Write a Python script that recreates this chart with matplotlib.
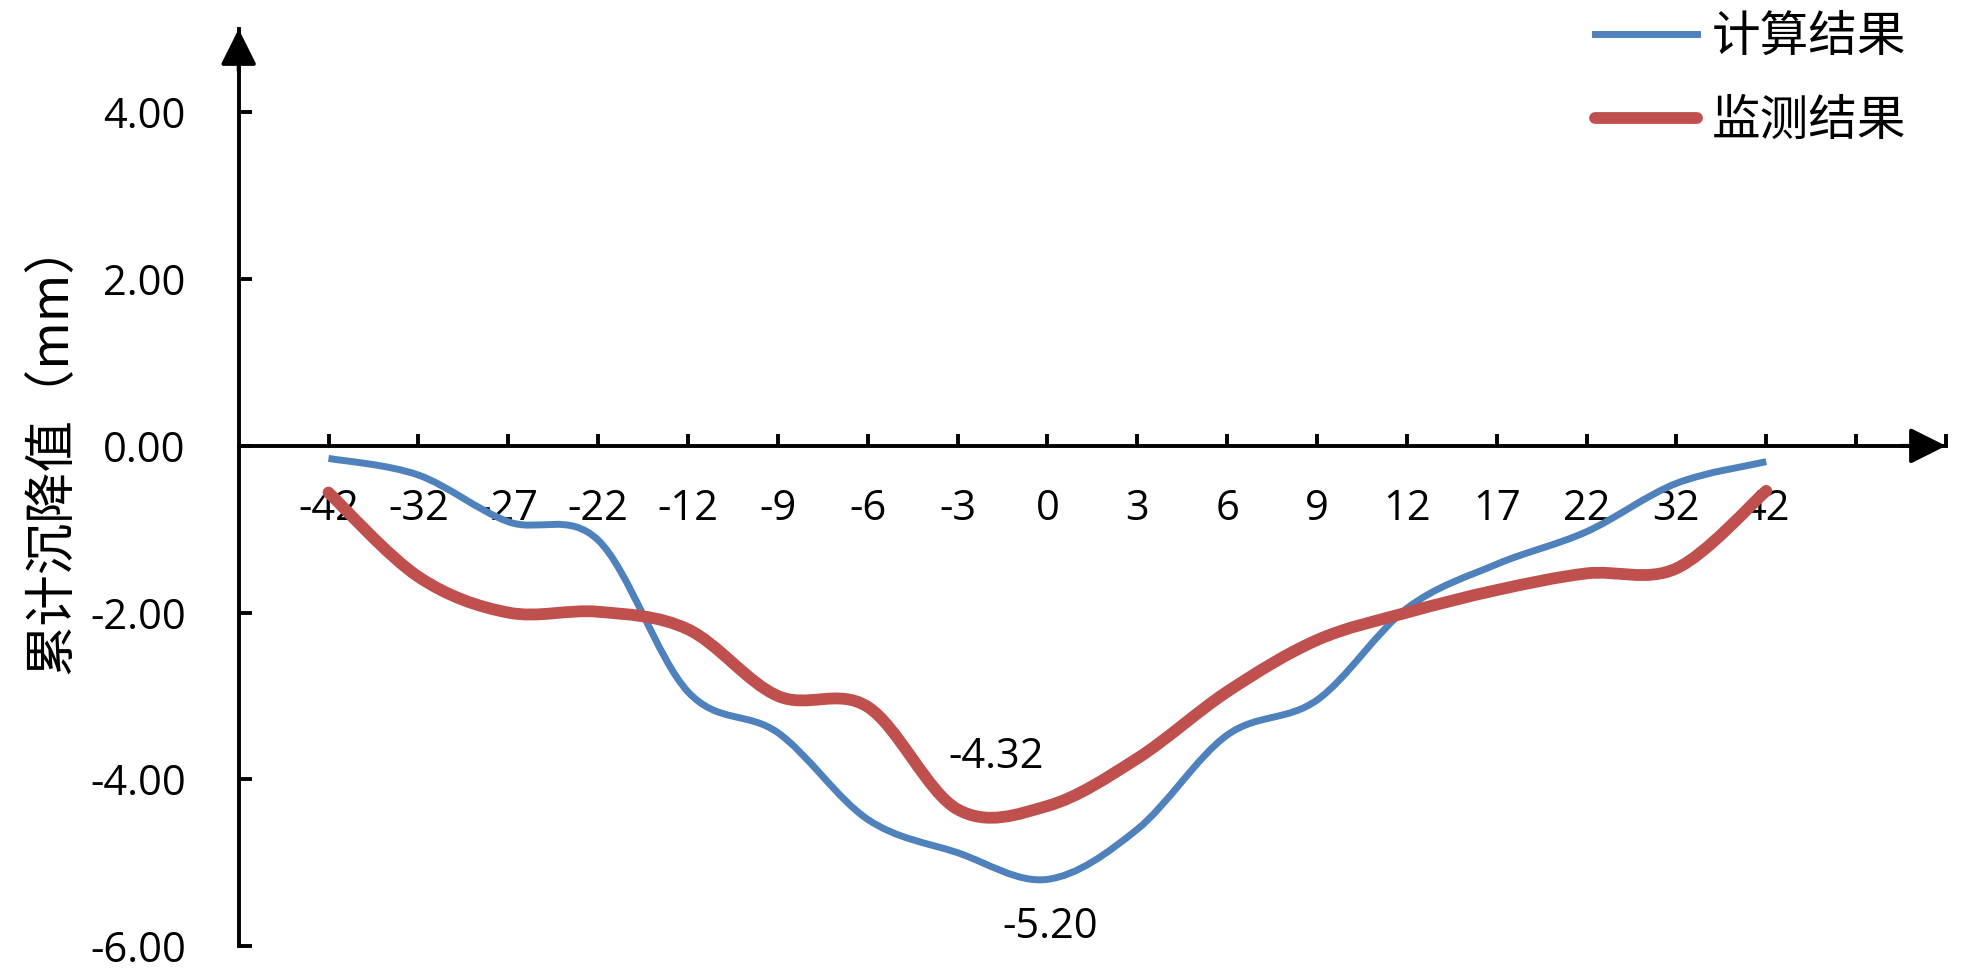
import numpy as np
import matplotlib
matplotlib.use("Agg")
import matplotlib.pyplot as plt
from matplotlib.path import Path
from matplotlib.patches import PathPatch
from matplotlib.lines import Line2D

plt.rcParams['font.family'] = ['Open Sans', 'Noto Sans CJK SC', 'DejaVu Sans']

categories = ['-42', '-32', '-27', '-22', '-12', '-9', '-6', '-3', '0',
              '3', '6', '9', '12', '17', '22', '32', '42']
calc = [-0.15, -0.35, -0.91, -1.13, -2.95, -3.44, -4.48, -4.88, -5.20,
        -4.60, -3.47, -3.05, -1.95, -1.42, -1.03, -0.45, -0.19]
monitor = [-0.56, -1.57, -2.00, -1.99, -2.20, -3.00, -3.13, -4.36, -4.32,
           -3.75, -2.95, -2.33, -2.00, -1.73, -1.53, -1.47, -0.54]
series_names = ['计算结果', '监测结果']
yticks = [-6, -4, -2, 0, 2, 4]

blue = '#4F81BD'
red = '#C0504D'


def smooth_path(xs, ys):
    # Excel-style smoothed line: cubic Bezier through every data point
    pts = np.column_stack([xs, ys]).astype(float)
    n = len(pts)
    verts = [pts[0]]
    codes = [Path.MOVETO]
    for i in range(n - 1):
        p0 = pts[i - 1] if i > 0 else pts[i]
        p1 = pts[i]
        p2 = pts[i + 1]
        p3 = pts[i + 2] if i + 2 < n else pts[i + 1]
        verts += [p1 + (p2 - p0) / 6, p2 - (p3 - p1) / 6, p2]
        codes += [Path.CURVE4] * 3
    return Path(verts, codes)


x = np.arange(1, len(categories) + 1)

fig = plt.figure(figsize=(19.69, 9.74), dpi=100)
ax = fig.add_axes([0.1212, 0.0287, 0.8671, 0.9415])

ax.add_patch(PathPatch(smooth_path(x, calc), fill=False, edgecolor=blue,
                       lw=5, capstyle='butt', zorder=3))
ax.add_patch(PathPatch(smooth_path(x, monitor), fill=False, edgecolor=red,
                       lw=8.5, capstyle='round', zorder=4))

ax.set_xlim(0, 19)
ax.set_ylim(-6, 5)

for s in ['top', 'right']:
    ax.spines[s].set_visible(False)
ax.spines['bottom'].set_position(('data', 0))
ax.spines['left'].set_position(('data', 0))
for s in ['bottom', 'left']:
    ax.spines[s].set_linewidth(2.8)

ax.set_xticks(np.arange(1, 20))
ax.set_xticklabels(categories + ['', ''])
ax.set_yticks(yticks)
ax.set_yticklabels([f'{v:.2f}' for v in yticks])
ax.tick_params(axis='x', direction='in', length=9, width=2.8, pad=30, labelsize=30)
ax.tick_params(axis='y', direction='in', length=9, width=2.8, pad=38, labelsize=30)

# arrow heads on both axes
arrow = dict(arrowstyle='-|>,head_length=1.0,head_width=0.5', color='black',
             lw=2.8, shrinkA=0, shrinkB=0, mutation_scale=22)
ax.annotate('', xy=(0, 5), xytext=(0, 4.5), arrowprops=arrow, annotation_clip=False)
ax.annotate('', xy=(19, 0), xytext=(18.5, 0), arrowprops=arrow, annotation_clip=False)

ax.set_ylabel('累计沉降值（mm）', fontsize=37, family=['Noto Sans CJK SC', 'DejaVu Sans'])
ax.yaxis.set_label_coords(-0.094, 0.544)

# data labels at the lowest points
i0 = categories.index('0')
ax.annotate(f'{monitor[i0]:.2f}', xy=(x[i0], monitor[i0]), xytext=(-37, 35),
            textcoords='offset points', ha='center', va='center', fontsize=30)
ax.annotate(f'{calc[i0]:.2f}', xy=(x[i0], calc[i0]), xytext=(2, -34),
            textcoords='offset points', ha='center', va='center', fontsize=30)

handles = [Line2D([], [], color=blue, lw=5),
           Line2D([], [], color=red, lw=8.5, solid_capstyle='round')]
fig.legend(handles, series_names, loc='upper right',
           bbox_to_anchor=(1935 / 1969, 1.017), frameon=False,
           prop={'family': ['Noto Sans CJK SC', 'DejaVu Sans'], 'size': 35},
           handlelength=2.1, handletextpad=0.3, labelspacing=0.7,
           borderpad=0.1)

fig.savefig('out.png', dpi=100)
